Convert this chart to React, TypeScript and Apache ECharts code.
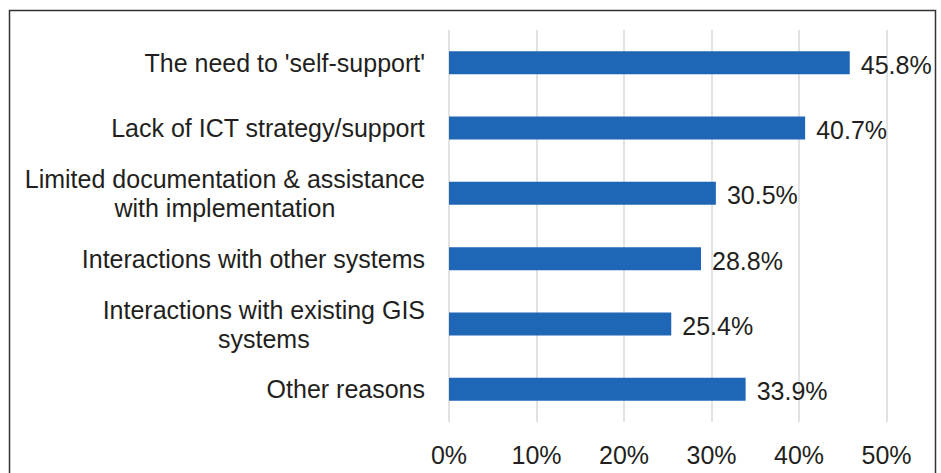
import React, { useEffect, useRef } from "react";
import * as echarts from "echarts";

const categories: string[] = [
  "The need to 'self-support'",
  "Lack of ICT strategy/support",
  "Limited documentation & assistance\nwith implementation",
  "Interactions with other systems",
  "Interactions with existing GIS\nsystems",
  "Other reasons",
];
const values: number[] = [45.8, 40.7, 30.5, 28.8, 25.4, 33.9];
const xTicks: number[] = [0, 10, 20, 30, 40, 50];

const FONT = "'Liberation Sans', Arial, sans-serif";
const TEXT = "#231f20";
const FS = 25;

export default function App() {
  const ref = useRef<HTMLDivElement>(null);
  useEffect(() => {
    if (!ref.current) return;
    const chart = echarts.init(ref.current, undefined, { renderer: "svg" });
    chart.setOption({
      animation: false,
      backgroundColor: "#ffffff",
      textStyle: { fontFamily: FONT },
      grid: { left: 449, right: 54.5, top: 30, bottom: 51, containLabel: false },
      xAxis: {
        type: "value",
        min: xTicks[0],
        max: xTicks[xTicks.length - 1],
        interval: 10,
        axisLine: { show: false },
        axisTick: { show: false },
        splitLine: { show: true, lineStyle: { color: "#d9d9d9", width: 1.5 } },
        axisLabel: {
          formatter: (v: number) => `${v}%`,
          fontSize: FS,
          color: TEXT,
          fontFamily: FONT,
          margin: 20,
        },
      },
      yAxis: {
        type: "category",
        data: categories,
        inverse: true,
        axisLine: { show: false },
        axisTick: { show: false },
        axisLabel: {
          margin: 24,
          fontFamily: FONT,
          formatter: (v: string) =>
            v
              .split("\n")
              .map((l) => `{c|${l}}`)
              .join("\n"),
          rich: {
            c: {
              align: "center",
              fontSize: FS,
              color: TEXT,
              fontFamily: FONT,
              lineHeight: 29,
            },
          },
        },
      },
      series: [
        {
          type: "bar",
          data: values,
          barWidth: 23,
          itemStyle: { color: "#1f66b6" },
          label: {
            show: true,
            position: "right",
            distance: 11,
            fontSize: FS,
            color: TEXT,
            fontFamily: FONT,
            offset: [0, 2],
            formatter: (p: any) => `${Number(p.value).toFixed(1)}%`,
          },
        },
      ],
      graphic: [
        {
          type: "rect",
          silent: true,
          shape: { x: 9.5, y: 10.5, width: 926, height: 500 },
          style: { fill: "none", stroke: "#333333", lineWidth: 1.5 },
          z: 100,
        },
      ],
    });
    return () => chart.dispose();
  }, []);
  return (
    <div
      ref={ref}
      style={{ position: "fixed", left: 0, top: 0, width: 941, height: 473 }}
    />
  );
}
